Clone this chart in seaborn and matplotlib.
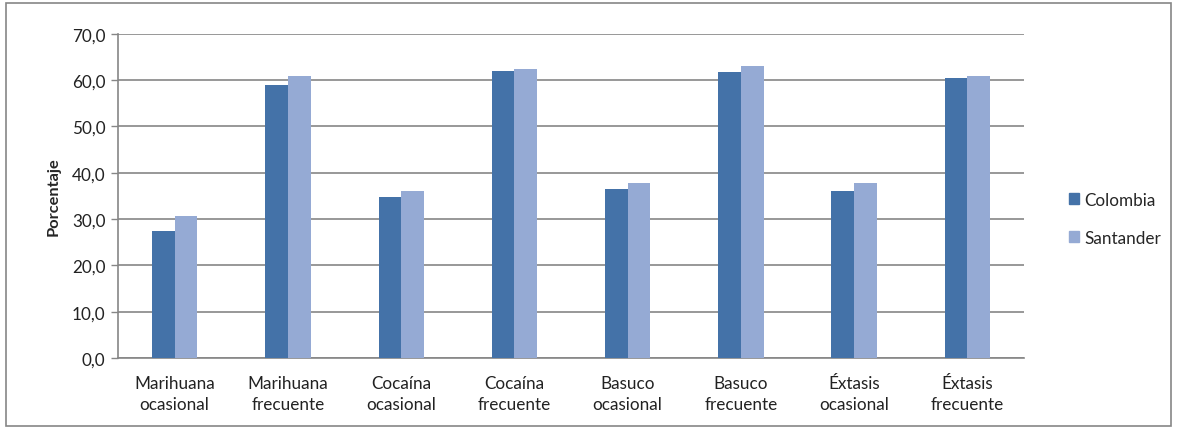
import matplotlib
matplotlib.use("Agg")
import matplotlib.pyplot as plt
import seaborn as sns
import pandas as pd
from matplotlib.patches import Rectangle

categories = ["Marihuana\nocasional", "Marihuana\nfrecuente", "Cocaína\nocasional",
              "Cocaína\nfrecuente", "Basuco\nocasional", "Basuco\nfrecuente",
              "Éxtasis\nocasional", "Éxtasis\nfrecuente"]
colombia = [27.5, 59.0, 34.8, 62.0, 36.4, 61.8, 36.0, 60.4]
santander = [30.6, 60.8, 36.0, 62.3, 37.8, 63.0, 37.8, 60.9]
series_names = ["Colombia", "Santander"]
y_ticks = [0, 10, 20, 30, 40, 50, 60, 70]

df = pd.DataFrame({
    "categoria": categories * 2,
    "valor": colombia + santander,
    "serie": [series_names[0]] * len(categories) + [series_names[1]] * len(categories),
})

sns.set_style("white")
plt.rcParams["font.family"] = ["Lato", "DejaVu Sans"]
FS = 12.3

fig = plt.figure(figsize=(11.77, 4.31), dpi=100)
ax = fig.add_axes([0.1003, 0.167, 0.7697, 0.7525])

palette = {"Colombia": "#4472A8", "Santander": "#95AAD4"}
sns.barplot(data=df, x="categoria", y="valor", hue="serie", palette=palette,
            width=0.4, gap=0, ax=ax, saturation=1, legend=False, zorder=3,
            linewidth=0)

ax.set_ylim(0, 70)
ax.set_yticks(y_ticks)
ax.set_yticklabels([f"{v:.1f}".replace(".", ",") for v in y_ticks], fontsize=FS, color="#222222")
ax.set_xlim(-0.5, len(categories) - 0.5)
ax.tick_params(axis="x", labelsize=FS, length=0, pad=12, colors="#222222")
for lbl in ax.get_xticklabels():
    lbl.set_linespacing(1.4)
ax.tick_params(axis="y", length=5, width=1, color="#868686", direction="out", left=True, pad=4)
ax.set_xlabel("")
ax.set_ylabel("Porcentaje", fontsize=FS - 0.5, fontweight="bold", labelpad=8)

ax.yaxis.grid(True, color="#868686", linewidth=1.2, zorder=0)
ax.set_axisbelow(True)
for side in ["top", "right"]:
    ax.spines[side].set_visible(False)
for side in ["left", "bottom"]:
    ax.spines[side].set_color("#868686")
    ax.spines[side].set_linewidth(1.2)

handles = [Rectangle((0, 0), 1, 1, color=palette[s]) for s in series_names]
fig.legend(handles, series_names, loc="center left", bbox_to_anchor=(0.895, 0.49),
           frameon=False, fontsize=FS, handlelength=0.6, handleheight=0.6,
           handletextpad=0.3, labelspacing=1.3)

fig.patches.append(Rectangle((0.005, 0.01), 0.99, 0.98, transform=fig.transFigure,
                             fill=False, edgecolor="#868686", linewidth=1.2))

fig.savefig("out.png", dpi=100)
